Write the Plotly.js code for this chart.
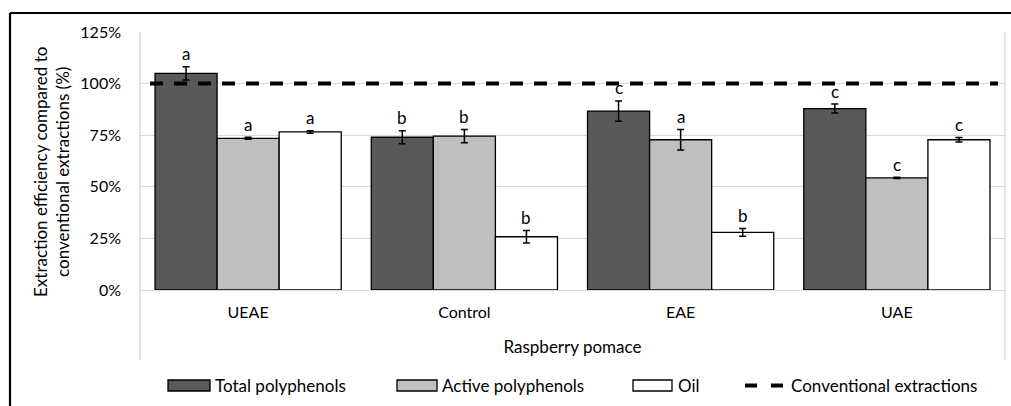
<!DOCTYPE html>
<html>
<head>
<meta charset="utf-8">
<script src="https://cdn.plot.ly/plotly-3.0.1.min.js"></script>
<style>
  html, body { margin: 0; padding: 0; background: #fff; }
  #chart { width: 1011px; height: 406px; }
</style>
</head>
<body>
<div id="chart"></div>
<script>
// ---- data ----
const categories = ['UEAE', 'Control', 'EAE', 'UAE'];
const totalPoly = [105, 74, 86.7, 87.9];
const totalPolyErr = [3.2, 3.1, 4.9, 2.2];
const totalPolyLetters = ['a', 'b', 'c', 'c'];
const activePoly = [73.5, 74.6, 72.8, 54.3];
const activePolyErr = [0.5, 3.2, 5, 0.3];
const activePolyLetters = ['a', 'b', 'a', 'c'];
const oil = [76.6, 25.8, 27.9, 72.8];
const oilErr = [0.6, 3, 1.9, 1.1];
const oilLetters = ['a', 'b', 'b', 'c'];
const conventionalX = [0, 1];
const conventionalY = [100, 100];
const seriesNames = ['Total polyphenols', 'Active polyphenols', 'Oil', 'Conventional extractions'];
const yTickVals = [0, 25, 50, 75, 100, 125];
const yTickText = ['0%', '25%', '50%', '75%', '100%', '125%'];
const yTitle = 'Extraction efficiency compared to<br>conventional extractions (%)';
const xTitle = 'Raspberry pomace';

// ---- layout geometry ----
const W = 1011, H = 406;
const M = {l: 140, r: 6, t: 32, b: 116};
const PW = W - M.l - M.r, PH = H - M.t - M.b;
const px = v => (v - M.l) / PW;          // page px -> paper x
const py = v => (H - M.b - v) / PH;      // page px -> paper y
const FONT = 'Lato, "Open Sans", sans-serif';
const BARGAP = 0.139;
const colors = ['#595959', '#bfbfbf', '#ffffff'];

const series = [
  {y: totalPoly, e: totalPolyErr, l: totalPolyLetters},
  {y: activePoly, e: activePolyErr, l: activePolyLetters},
  {y: oil, e: oilErr, l: oilLetters}
];

const traces = series.map((s, k) => ({
  type: 'bar', name: seriesNames[k], x: categories, y: s.y,
  marker: {color: colors[k], line: {color: '#000', width: 1.3}},
  error_y: {type: 'data', array: s.e, visible: true, color: '#000', thickness: 1.5, width: 3.5},
  showlegend: false, hoverinfo: 'x+y'
}));
traces.push({
  type: 'scatter', mode: 'lines', name: seriesNames[3],
  x: conventionalX, y: conventionalY, xaxis: 'x2',
  line: {color: '#000', width: 4, dash: '13px,11px'},
  showlegend: false
});

const annotations = [];
const barPx = PW / categories.length * (1 - BARGAP) / 3;
series.forEach((s, k) => {
  s.y.forEach((v, i) => {
    annotations.push({
      x: categories[i], y: v + s.e[i], xref: 'x', yref: 'y',
      text: s.l[i], showarrow: false, xshift: (k - 1) * barPx, yshift: 13,
      yanchor: 'middle', font: {family: FONT, size: 17, color: '#000'}
    });
  });
});

// y-axis title, placed like the reference
annotations.push({x: px(51), y: py(172), xref: 'paper', yref: 'paper',
  text: yTitle, textangle: -90, showarrow: false, xanchor: 'center', yanchor: 'middle',
  font: {family: FONT, size: 17, color: '#000'}});

// custom legend (wide flat swatches like the reference)
const legendSw = [[168, 210], [397, 437], [633, 672]];
const legendTextX = [213, 440, 676, 789];
const legendY = 385.5;
const shapes = [];
legendSw.forEach((p, k) => {
  shapes.push({type: 'rect', xref: 'paper', yref: 'paper',
    x0: px(p[0]), x1: px(p[1]), y0: py(legendY + 5.5), y1: py(legendY - 5.5),
    fillcolor: colors[k], line: {color: '#000', width: 1.3}});
});
shapes.push({type: 'line', xref: 'paper', yref: 'paper',
  x0: px(745), x1: px(783), y0: py(legendY), y1: py(legendY),
  line: {color: '#000', width: 4, dash: '12px,14px'}});
seriesNames.forEach((n, k) => {
  annotations.push({x: px(legendTextX[k]), y: py(legendY), xref: 'paper', yref: 'paper',
    text: n, showarrow: false, xanchor: 'left', yanchor: 'middle',
    font: {family: FONT, size: 17, color: '#000'}});
});

// plot-area side lines (reaching into the category label area) and outer frame
shapes.push({type: 'line', xref: 'paper', yref: 'paper', x0: 0, x1: 0, y0: 1, y1: py(360), line: {color: '#d9d9d9', width: 1.3}, layer: 'below'});
shapes.push({type: 'line', xref: 'paper', yref: 'paper', x0: 1, x1: 1, y0: 1, y1: py(360), line: {color: '#d9d9d9', width: 1.3}, layer: 'below'});
shapes.push({type: 'line', xref: 'paper', yref: 'paper', x0: px(10), x1: px(1100), y0: py(13), y1: py(13), line: {color: '#000', width: 2.2}});
shapes.push({type: 'line', xref: 'paper', yref: 'paper', x0: px(10), x1: px(10), y0: py(13), y1: py(500), line: {color: '#000', width: 2.2}});

const layout = {
  width: W, height: H,
  margin: {l: M.l, r: M.r, t: M.t, b: M.b, pad: 0},
  paper_bgcolor: '#fff', plot_bgcolor: '#fff',
  barmode: 'group', bargap: BARGAP, bargroupgap: 0,
  showlegend: false,
  font: {family: FONT, color: '#000'},
  xaxis: {
    type: 'category', range: [-0.5, 3.5], fixedrange: true,
    showgrid: false, showline: true, linecolor: '#d9d9d9', linewidth: 1.3,
    ticks: '', ticklabelstandoff: 7,
    tickfont: {family: FONT, size: 16, color: '#000'},
    title: {text: xTitle, font: {family: FONT, size: 17, color: '#000'}, standoff: 21}
  },
  xaxis2: {overlaying: 'x', range: [-10 / 848, 1 + 7 / 848], visible: false, fixedrange: true},
  yaxis: {
    range: [0, 125], tickvals: yTickVals, ticktext: yTickText, fixedrange: true,
    showgrid: true, gridcolor: '#d9d9d9', gridwidth: 1.3, zeroline: false,
    showline: false, ticks: '', ticklabelstandoff: 18,
    tickfont: {family: FONT, size: 16, color: '#000'}
  },
  annotations: annotations,
  shapes: shapes
};

Plotly.newPlot('chart', traces, layout, {displayModeBar: false, staticPlot: true});
</script>
</body>
</html>
